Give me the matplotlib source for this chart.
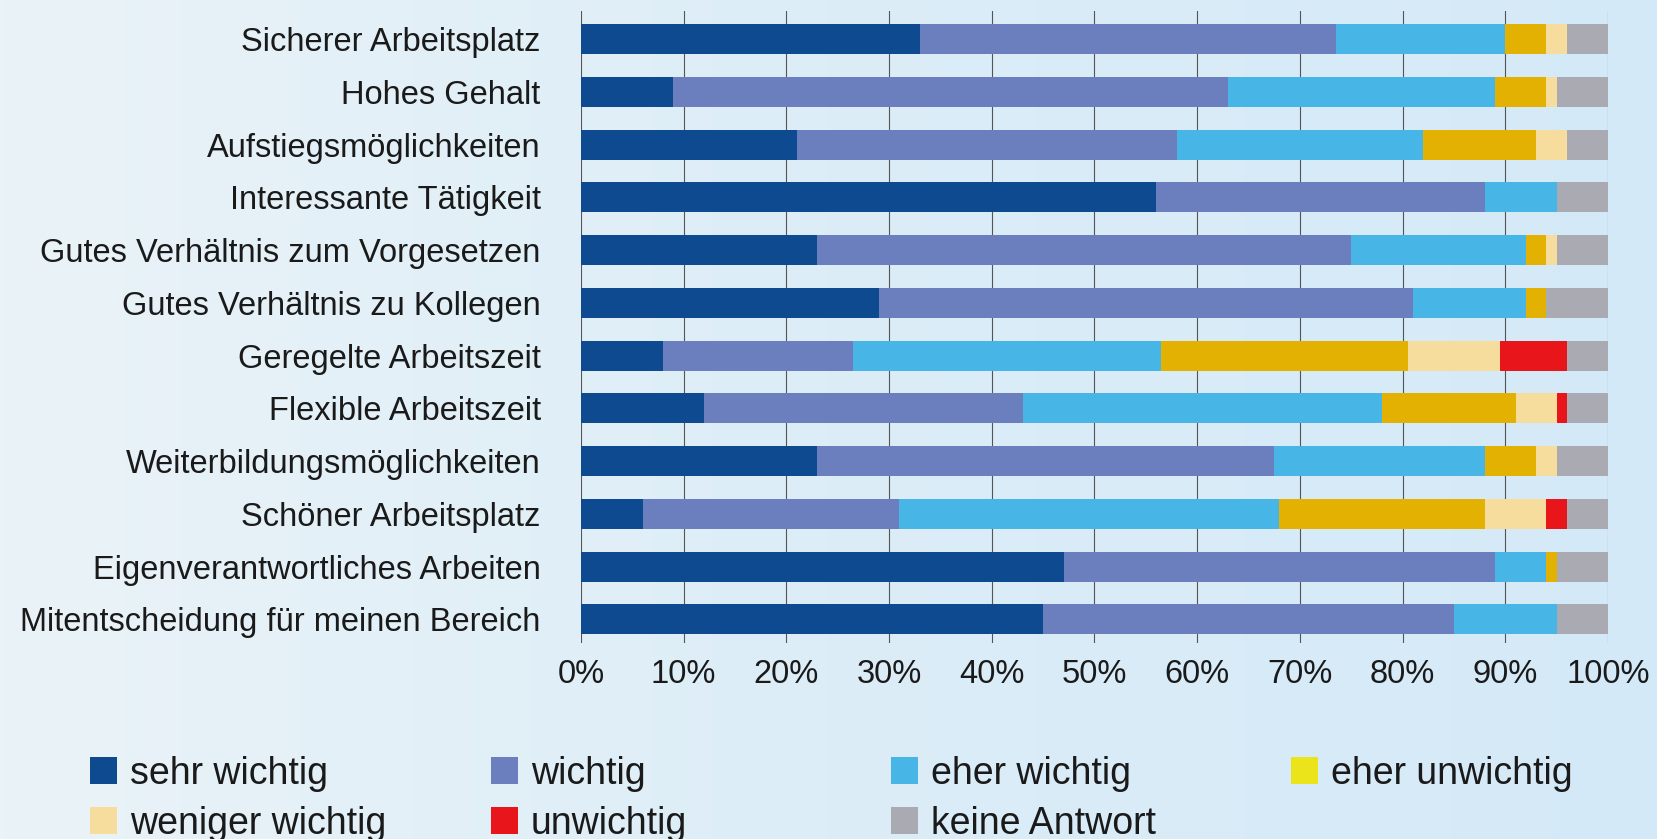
import numpy as np
import matplotlib
matplotlib.use("Agg")
import matplotlib.pyplot as plt
from matplotlib.patches import Patch

plt.rcParams['font.family'] = ['Liberation Sans', 'DejaVu Sans']

categories = [
    "Sicherer Arbeitsplatz",
    "Hohes Gehalt",
    "Aufstiegsmöglichkeiten",
    "Interessante Tätigkeit",
    "Gutes Verhältnis zum Vorgesetzen",
    "Gutes Verhältnis zu Kollegen",
    "Geregelte Arbeitszeit",
    "Flexible Arbeitszeit",
    "Weiterbildungsmöglichkeiten",
    "Schöner Arbeitsplatz",
    "Eigenverantwortliches Arbeiten",
    "Mitentscheidung für meinen Bereich",
]

sehr_wichtig    = [33, 9, 21, 56, 23, 29, 8, 12, 23, 6, 47, 45]
wichtig         = [40.5, 54, 37, 32, 52, 52, 18.5, 31, 44.5, 25, 42, 40]
eher_wichtig    = [16.5, 26, 24, 7, 17, 11, 30, 35, 20.5, 37, 5, 10]
eher_unwichtig  = [4, 5, 11, 0, 2, 2, 24, 13, 5, 20, 1, 0]
weniger_wichtig = [2, 1, 3, 0, 1, 0, 9, 4, 2, 6, 0, 0]
unwichtig       = [0, 0, 0, 0, 0, 0, 6.5, 1, 0, 2, 0, 0]
keine_antwort   = [4, 5, 4, 5, 5, 6, 4, 4, 5, 4, 5, 5]

series = [sehr_wichtig, wichtig, eher_wichtig, eher_unwichtig,
          weniger_wichtig, unwichtig, keine_antwort]
labels = ["sehr wichtig", "wichtig", "eher wichtig", "eher unwichtig",
          "weniger wichtig", "unwichtig", "keine Antwort"]
colors = ["#0d4a8f", "#6b7fbf", "#47b6e6", "#e2b102",
          "#f6dd9e", "#e8161b", "#a9aab2"]
legend_colors = ["#0d4a8f", "#6b7fbf", "#47b6e6", "#ece41a",
                 "#f6dd9e", "#e8161b", "#a9aab2"]

fig = plt.figure(figsize=(16.57, 8.39), dpi=100)

# background gradient
bg = fig.add_axes([0, 0, 1, 1], zorder=-10)
grad = np.linspace(0, 1, 256).reshape(1, -1)
cmap = matplotlib.colors.LinearSegmentedColormap.from_list("bg", ["#eaf3f8", "#dcedf7", "#d4e9f7"])
bg.imshow(grad, aspect="auto", cmap=cmap, extent=[0, 1, 0, 1])
bg.axis("off")

ax = fig.add_axes([0.3506, 0.2342, 0.6198, 0.7532])
ax.patch.set_alpha(0)

y = np.arange(len(categories))
left = np.zeros(len(categories))
for vals, lab, col in zip(series, labels, colors):
    ax.barh(y, vals, left=left, height=0.57, color=col, label=lab, zorder=3)
    left += np.array(vals)

ax.set_xlim(0, 100)
ax.set_ylim(11.44, -0.54)
ax.set_xticks(np.arange(0, 101, 10))
ax.set_xticklabels([f"{v}%" for v in range(0, 101, 10)])
ax.set_yticks(y)
ax.set_yticklabels(categories)
ax.tick_params(axis="both", length=0, labelsize=23.5, colors="#1a1a1a")
ax.tick_params(axis="y", pad=29)
ax.tick_params(axis="x", pad=12)
ax.xaxis.grid(True, color="#555555", linewidth=0.8, zorder=0)
for s in ax.spines.values():
    s.set_visible(False)

# legend in four evenly spaced columns
cols = [[0, 4], [1, 5], [2, 6], [3]]
xs = [0.0543, 0.2963, 0.5377, 0.7791]
for xi, idx in zip(xs, cols):
    handles = [Patch(facecolor=legend_colors[i], label=labels[i]) for i in idx]
    fig.legend(handles=handles, loc="upper left", bbox_to_anchor=(xi, 0.099),
               frameon=False, fontsize=27, handlelength=0.72, handleheight=0.72,
               handletextpad=0.35, labelspacing=0.37, borderpad=0,
               borderaxespad=0, labelcolor="#1a1a1a")

fig.savefig("out.png", dpi=100)
